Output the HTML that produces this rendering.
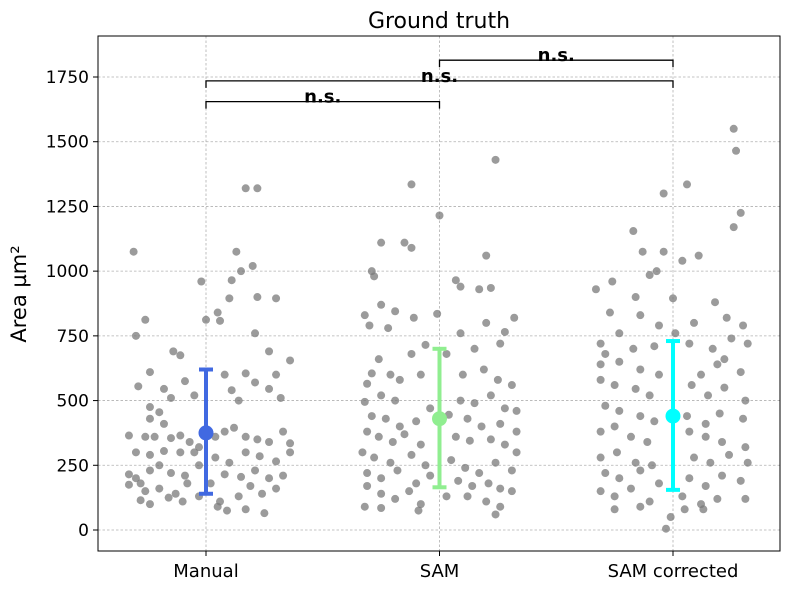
<!DOCTYPE html>
<html><head><meta charset="utf-8"><style>
body{margin:0;background:#fff;}
svg{display:block;font-family:"DejaVu Sans","Liberation Sans",sans-serif;}
</style></head><body>
<svg id="chart" width="790" height="590"></svg>
<script>
const categories=["Manual","SAM","SAM corrected"];
const yTicks=[0,250,500,750,1000,1250,1500,1750];
const means=[375,430,440];
const errLow=[140,165,155];
const errHigh=[620,700,730];
const meanColors=["#4169e1","#90ee90","#00ffff"];
const manualVals=[1075,750,812,1320,1320,1075,1020,1000,965,895,900,895,840,960,812,808,760,690,690,675,610,545,555,475,455,655,600,605,600,570,545,510,540,500,575,520,510,430,410,365,360,360,355,365,340,320,360,380,395,360,350,340,380,335,300,290,305,300,300,280,260,300,285,265,300,215,200,180,230,250,220,210,250,180,215,205,230,200,210,175,150,160,140,180,130,110,130,170,140,160,100,110,90,80,65,75,125,115];
const manualJit=[-31,-30,-26,17,22,13,20,15,11,30,22,10,5,-2,0,6,21,27,-14,-11,-24,-18,-29,-24,-20,36,30,17,8,21,27,32,11,14,-9,-5,-15,-24,-18,-33,-26,-22,-15,-11,-7,-3,4,8,12,17,22,27,33,36,-30,-24,-18,-11,-5,4,10,17,23,30,36,-33,-30,-28,-24,-20,-15,-9,-3,2,8,15,21,27,33,-33,-26,-20,-13,-8,-3,6,14,19,24,30,-24,-10,5,17,25,9,-16,-28];
const samVals=[1430,1335,1215,1110,1110,1090,1000,980,965,1060,940,930,935,870,830,790,780,845,820,835,800,820,765,760,715,680,680,700,720,660,600,605,565,580,600,600,620,580,560,520,500,470,500,490,520,470,460,495,440,430,400,420,445,430,400,410,380,380,360,340,370,330,360,345,350,330,300,300,280,260,290,250,270,240,220,260,230,220,200,230,180,210,190,170,180,160,170,140,120,150,100,130,130,110,90,85,90,75,60,150];
const samJit=[24,-12,0,-25,-15,-12,-29,-28,7,20,9,17,22,-25,-32,-30,-22,-19,-11,-1,20,32,28,9,-6,-12,3,15,26,-26,-21,-29,-31,-17,-8,10,19,25,31,-25,-19,-4,9,15,22,28,33,-32,-29,-23,-17,-10,4,12,18,26,33,-31,-26,-20,-15,-8,7,13,22,28,33,-33,-28,-21,-12,-6,5,11,17,24,31,-31,-25,-18,-10,-4,8,14,21,26,-31,-25,-19,-13,-8,3,12,20,26,-25,-32,-9,24,31];
const corVals=[1550,1465,1225,1170,1335,1300,1155,1075,1075,1040,1060,1000,985,960,930,900,895,880,820,790,800,760,790,840,830,760,720,680,700,710,720,700,740,720,640,650,620,600,600,640,610,660,580,560,545,520,560,520,550,500,480,460,440,420,440,410,450,430,380,400,360,340,380,360,340,320,280,300,260,250,280,260,290,260,220,200,230,180,200,170,210,190,150,130,160,110,130,100,120,120,80,90,5,50,80,80];
const corJit=[26,27,29,26,6,-4,-17,-13,-4,4,11,-7,-10,-26,-33,-16,0,18,23,30,9,1,-6,-27,-14,-23,-31,-29,-17,-8,7,17,25,32,-31,-23,-14,-6,12,19,29,22,-31,-25,-16,-10,8,15,22,31,-29,-23,-14,-8,6,14,20,30,-31,-25,-18,-11,7,14,21,31,-31,-24,-16,-9,9,16,24,32,-29,-23,-14,-6,7,14,21,29,-31,-25,-18,-10,4,12,19,31,-25,-14,-3,-1,5,13];
const groupVals=[manualVals,samVals,corVals];
const groupJit=[manualJit,samJit,corJit];
const brackets=[[1,2,1815],[0,2,1735],[0,1,1655]];

const NS="http://www.w3.org/2000/svg";
const svg=document.getElementById("chart");
const L=98,R=780,T=36,B=551;
const xS=i=>206+i*233.5;
const yS=v=>530-v*(453/1750);
function mk(t,a,p){const e=document.createElementNS(NS,t);for(const k in a)e.setAttribute(k,a[k]);(p||svg).appendChild(e);return e;}

yTicks.forEach(v=>{const g=mk("line",{x1:L,x2:R,y1:yS(v),y2:yS(v),stroke:"#b0b0b0","stroke-width":0.8,"stroke-dasharray":"2.5,2"});

});
categories.forEach((c,i)=>{const g=mk("line",{x1:xS(i),x2:xS(i),y1:T,y2:B,stroke:"#b0b0b0","stroke-width":0.8,"stroke-dasharray":"2.5,2"});

});

groupVals.forEach((vals,gi)=>{vals.forEach((v,k)=>{
const c=mk("circle",{cx:xS(gi)+groupJit[gi][k]/100*233.5,cy:yS(v),r:4,fill:"#7a7a7a","fill-opacity":0.75});

});});

means.forEach((m,i)=>{const col=meanColors[i],x=xS(i);
const l=mk("line",{x1:x,x2:x,y1:yS(errLow[i]),y2:yS(errHigh[i]),stroke:col,"stroke-width":4});


[errLow[i],errHigh[i]].forEach(v=>{const c=mk("line",{x1:x-7,x2:x+7,y1:yS(v),y2:yS(v),stroke:col,"stroke-width":4});

});
const d=mk("circle",{cx:x,cy:yS(m),r:7.5,fill:col});

});

brackets.forEach(b=>{const y=yS(b[2]),x1=xS(b[0]),x2=xS(b[1]);
const p=mk("path",{d:`M${x1},${y+7}V${y}H${x2}V${y+7}`,fill:"none",stroke:"#000","stroke-width":1.3});


const t=mk("text",{x:(x1+x2)/2,y:y+1,"text-anchor":"middle","font-size":18,"font-weight":"bold"});t.textContent="n.s.";

});

const f=mk("rect",{x:L,y:T,width:R-L,height:B-T,fill:"none",stroke:"#000","stroke-width":1});


yTicks.forEach(v=>{const tk=mk("line",{x1:L-5,x2:L,y1:yS(v),y2:yS(v),stroke:"#000"});


const t=mk("text",{x:L-9,y:yS(v)+6,"text-anchor":"end","font-size":17});t.textContent=v;

});
categories.forEach((c,i)=>{const tk=mk("line",{x1:xS(i),x2:xS(i),y1:B,y2:B+5,stroke:"#000"});


const t=mk("text",{x:xS(i),y:577,"text-anchor":"middle","font-size":18});t.textContent=c;

});
const ti=mk("text",{x:439,y:28,"text-anchor":"middle","font-size":22});ti.textContent="Ground truth";


const yl=mk("text",{x:0,y:0,"text-anchor":"middle","font-size":21,transform:"translate(26,294) rotate(-90)"});yl.textContent="Area µm²";


</script>
</body></html>
